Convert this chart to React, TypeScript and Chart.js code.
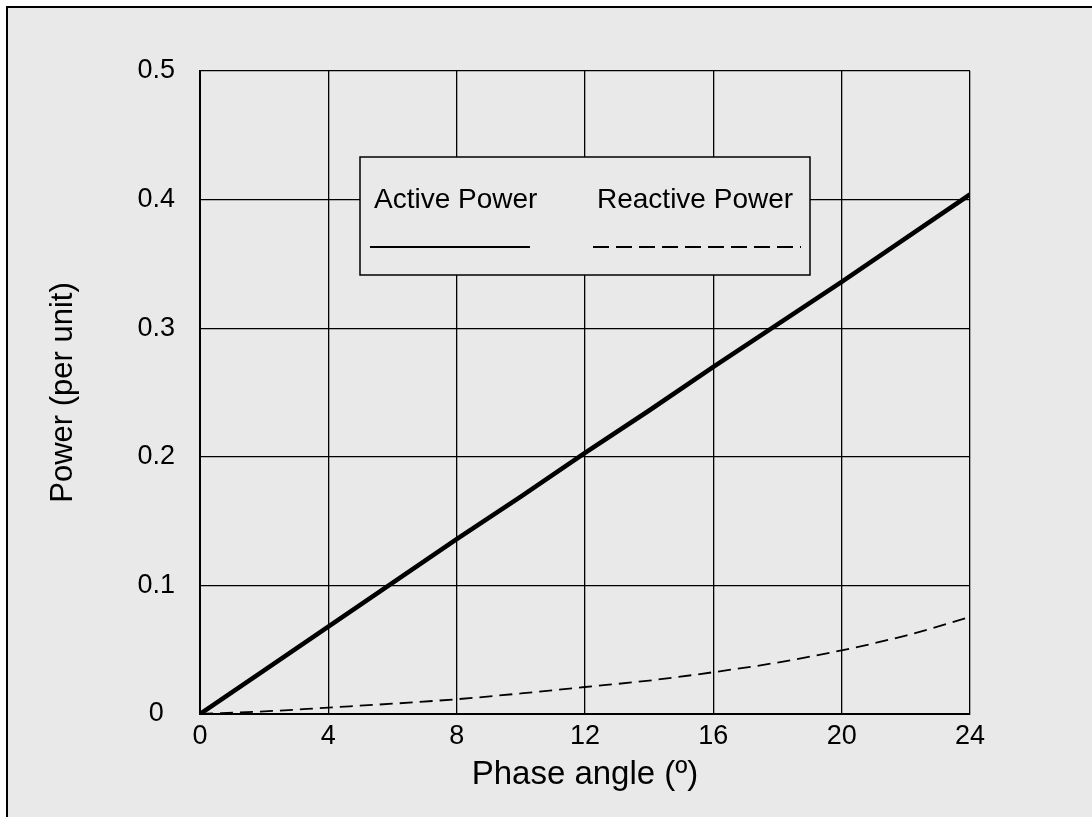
import React, { useEffect, useRef } from "react";
import { Chart, registerables } from "chart.js";

Chart.register(...registerables);

// Phase angle (degrees)
const angles = [0, 2, 4, 6, 8, 10, 12, 14, 16, 18, 20, 22, 24];
// Active power (per unit)
const activePower = [0, 0.034, 0.068, 0.102, 0.136, 0.169, 0.203, 0.236, 0.27, 0.303, 0.336, 0.37, 0.404];
// Reactive power (per unit)
const reactivePower = [0, 0.002, 0.005, 0.008, 0.0115, 0.016, 0.021, 0.026, 0.0325, 0.04, 0.0495, 0.061, 0.0755];

const xTitle = "Phase angle (º)";
const yTitle = "Power (per unit)";
const legendLabels = ["Active Power", "Reactive Power"];

const FONT = "'Liberation Sans', Arial, Helvetica, sans-serif";
const BG = "#e9e9e9";

const legendPlugin = {
  id: "boxLegend",
  afterDraw(chart: any) {
    const { ctx, chartArea } = chart;
    const x0 = chartArea.left + 160;
    const y0 = chartArea.top + 86;
    const w = 450;
    const h = 118;
    ctx.save();
    ctx.fillStyle = BG;
    ctx.fillRect(x0, y0, w, h);
    ctx.strokeStyle = "#000";
    ctx.lineWidth = 1.5;
    ctx.strokeRect(x0, y0, w, h);
    ctx.fillStyle = "#000";
    ctx.font = `28px ${FONT}`;
    ctx.textBaseline = "alphabetic";
    ctx.textAlign = "left";
    ctx.fillText(legendLabels[0], x0 + 14, y0 + 51);
    ctx.fillText(legendLabels[1], x0 + 237, y0 + 51);
    ctx.lineWidth = 1.8;
    ctx.beginPath();
    ctx.moveTo(x0 + 10, y0 + 90);
    ctx.lineTo(x0 + 170, y0 + 90);
    ctx.stroke();
    ctx.setLineDash([16, 7]);
    ctx.beginPath();
    ctx.moveTo(x0 + 233, y0 + 90);
    ctx.lineTo(x0 + 441, y0 + 90);
    ctx.stroke();
    ctx.restore();
  },
};

export default function App() {
  const ref = useRef<HTMLCanvasElement | null>(null);

  useEffect(() => {
    if (!ref.current) return;
    const chart = new Chart(ref.current, {
      type: "line",
      data: {
        datasets: [
          {
            label: legendLabels[0],
            data: angles.map((a, i) => ({ x: a, y: activePower[i] })),
            borderColor: "#000",
            borderWidth: 4.6,
            pointRadius: 0,
            tension: 0,
            fill: false,
          },
          {
            label: legendLabels[1],
            data: angles.map((a, i) => ({ x: a, y: reactivePower[i] })),
            borderColor: "#000",
            borderWidth: 1.8,
            borderDash: [13, 7],
            pointRadius: 0,
            cubicInterpolationMode: "monotone",
            fill: false,
          },
        ],
      },
      options: {
        responsive: false,
        animation: false,
        layout: { padding: { left: 0, top: 71, right: 122, bottom: 0 } },
        plugins: {
          legend: { display: false },
          tooltip: { enabled: false },
        },
        scales: {
          x: {
            type: "linear",
            min: 0,
            max: 24,
            afterFit: (s: any) => {
              s.height = 103;
            },
            ticks: {
              stepSize: 4,
              color: "#000",
              padding: 6,
              maxRotation: 0,
              font: { family: FONT, size: 27 },
            },
            grid: { color: "#000", lineWidth: 1.3, drawTicks: false },
            border: { color: "#000", width: 2 },
            title: {
              display: true,
              text: xTitle,
              color: "#000",
              font: { family: FONT, size: 33 },
              padding: { top: 0, bottom: 22 },
            },
          },
          y: {
            type: "linear",
            min: 0,
            max: 0.5,
            afterFit: (s: any) => {
              s.width = 200;
            },
            ticks: {
              stepSize: 0.1,
              color: "#000",
              padding: 25,
              crossAlign: "center",
              font: { family: FONT, size: 27 },
              callback: (v: any) => String(Number(Number(v).toFixed(1))),
            },
            grid: { color: "#000", lineWidth: 1.3, drawTicks: false },
            border: { color: "#000", width: 2 },
            title: {
              display: true,
              text: yTitle,
              color: "#000",
              font: { family: FONT, size: 31 },
              padding: { top: 45, bottom: 0 },
            },
          },
        },
      },
      plugins: [legendPlugin],
    });
    return () => chart.destroy();
  }, []);

  return (
    <div
      style={{
        position: "fixed",
        left: 0,
        top: 0,
        width: 1092,
        height: 817,
        overflow: "hidden",
        background: "#fff",
      }}
    >
      <div
        style={{
          position: "absolute",
          left: 6,
          top: 6,
          width: 1200,
          height: 900,
          border: "2px solid #000",
          background: BG,
        }}
      />
      <canvas
        ref={ref}
        width={1092}
        height={817}
        style={{ position: "absolute", left: 0, top: 0, width: 1092, height: 817 }}
      />
    </div>
  );
}
